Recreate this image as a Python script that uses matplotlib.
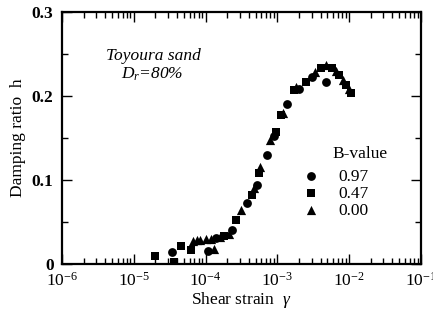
import numpy as np
import matplotlib
matplotlib.use('Agg')
import matplotlib.pyplot as plt
from matplotlib.ticker import LogLocator, MultipleLocator

plt.rcParams['font.family'] = ['Liberation Serif', 'DejaVu Serif']
plt.rcParams['mathtext.fontset'] = 'custom'
plt.rcParams['mathtext.rm'] = 'Liberation Serif'
plt.rcParams['mathtext.it'] = 'Liberation Serif:italic'

# B = 0.97
strain_97 = [3.4e-5, 1.07e-4, 1.4e-4, 2.35e-4, 3.8e-4, 5.3e-4, 7.3e-4, 9.1e-4,
             1.37e-3, 2.0e-3, 3.0e-3, 4.8e-3]
damp_97 = [0.014, 0.016, 0.031, 0.040, 0.073, 0.094, 0.130, 0.152,
           0.190, 0.208, 0.222, 0.217]

# B = 0.47
strain_47 = [2.0e-5, 3.6e-5, 4.5e-5, 6.2e-5, 1.8e-4, 2.7e-4, 4.5e-4, 5.6e-4,
             9.7e-4, 1.14e-3, 1.7e-3, 2.5e-3, 4.1e-3, 5.8e-3, 7.3e-3, 9.2e-3, 1.06e-2]
damp_47 = [0.009, 0.002, 0.021, 0.017, 0.033, 0.052, 0.082, 0.108,
           0.157, 0.177, 0.207, 0.217, 0.233, 0.233, 0.225, 0.213, 0.204]

# B = 0.00
strain_00 = [6.6e-5, 7.5e-5, 8.5e-5, 1.0e-4, 1.2e-4, 1.3e-4, 1.6e-4, 2.1e-4,
             3.1e-4, 4.8e-4, 5.8e-4, 7.8e-4, 1.2e-3, 1.8e-3, 3.3e-3, 4.8e-3,
             6.5e-3, 8.2e-3, 1.0e-2]
damp_00 = [0.027, 0.028, 0.029, 0.030, 0.030, 0.018, 0.032, 0.036,
           0.064, 0.090, 0.115, 0.148, 0.180, 0.211, 0.228, 0.237,
           0.230, 0.219, 0.208]

xticks = [1e-6, 1e-5, 1e-4, 1e-3, 1e-2, 1e-1]
xticklabels = ['$10^{-6}$', '$10^{-5}$', '$10^{-4}$', '$10^{-3}$', '$10^{-2}$', '$10^{-1}$']
yticks = [0, 0.1, 0.2, 0.3]
yticklabels = ['0', '0.1', '0.2', '0.3']

fig = plt.figure(figsize=(4.33, 3.12), dpi=100)
ax = fig.add_axes([0.143, 0.154, 0.829, 0.808])

ax.scatter(strain_97, damp_97, marker='o', s=40, c='k', linewidths=0, label='0.97')
ax.scatter(strain_47, damp_47, marker='s', s=34, c='k', linewidths=0, label='0.47')
ax.scatter(strain_00, damp_00, marker='^', s=44, c='k', linewidths=0, label='0.00')

ax.set_xscale('log')
ax.set_xlim(1e-6, 1e-1)
ax.set_ylim(0, 0.3)
ax.set_xticks(xticks)
ax.set_xticklabels(xticklabels, fontsize=12.5)
ax.xaxis.set_minor_locator(LogLocator(base=10, subs=np.arange(2, 10)))
ax.set_yticks(yticks)
ax.set_yticklabels(yticklabels, fontsize=12.5, fontweight='bold')
ax.yaxis.set_minor_locator(MultipleLocator(0.05))

ax.tick_params(which='both', direction='in', top=True, right=True, width=1)
ax.tick_params(which='major', length=7)
ax.tick_params(axis='x', which='major', pad=6)
ax.tick_params(axis='y', which='major', pad=6)
ax.tick_params(which='minor', length=4)
for s in ax.spines.values():
    s.set_linewidth(1.6)

ax.set_xlabel('Shear strain  $\\gamma$', fontsize=12.5, labelpad=0)
ax.set_ylabel('Damping ratio  h', fontsize=12.5, labelpad=4)

ax.text(0.256, 0.825, 'Toyoura sand', transform=ax.transAxes, fontsize=12.5,
        style='italic', ha='center', va='center')
ax.text(0.251, 0.752, '$D_r$=80%', transform=ax.transAxes, fontsize=12.5,
        style='italic', ha='center', va='center')

ax.text(0.83, 0.436, 'B-value', transform=ax.transAxes, fontsize=12.5,
        ha='center', va='center')
leg = ax.legend(loc='upper left', bbox_to_anchor=(0.65, 0.405),
                frameon=False, fontsize=12.5,
                handletextpad=1.1, labelspacing=0.05, borderaxespad=0,
                handlelength=1.0)

fig.savefig('out.png', dpi=100)
